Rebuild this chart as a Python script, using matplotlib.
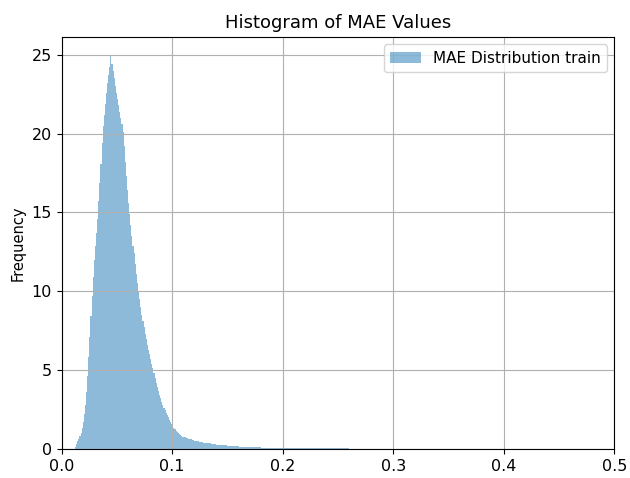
import numpy as np
import matplotlib
matplotlib.use("Agg")
import matplotlib.pyplot as plt

# bin edges: fine bins around the peak, coarser in the long tail
edges = np.concatenate([
    np.linspace(0.012, 0.110, 99),
    np.linspace(0.112, 0.130, 10),
    np.linspace(0.135, 0.200, 14),
    np.linspace(0.210, 0.500, 30),
])

# density per bin
peak_heights = [0.1, 0.3, 0.5, 0.65, 0.8, 1.0, 1.3, 1.7, 2.2, 2.8,
                3.6, 4.6, 5.8, 7.1, 8.4, 9.7, 10.9, 12.0, 12.9, 13.7,
                14.6, 15.7, 16.9, 18.1, 19.4, 20.5, 21.2, 21.9, 22.6, 23.2,
                23.7, 24.2, 24.9, 24.4, 24.0, 23.5, 23.0, 22.6, 22.2, 21.8,
                21.4, 21.0, 20.6, 20.1, 19.2, 18.2, 17.3, 16.4, 15.6, 14.9,
                14.2, 13.5, 12.9, 12.4, 11.7, 11.1, 10.5, 10.0, 9.5, 9.0,
                8.5, 8.1, 7.7, 7.3, 7.0, 6.6, 6.3, 6.0, 5.7, 5.4,
                5.1, 4.8, 4.5, 4.2, 3.9, 3.7, 3.4, 3.2, 3.0, 2.8,
                2.6, 2.45, 2.3, 2.15, 2.0, 1.85, 1.7, 1.55, 1.45, 1.35,
                1.25, 1.15, 1.07, 1.0, 0.93, 0.87, 0.82, 0.78]
shoulder_heights = [0.74, 0.70, 0.65, 0.60, 0.56, 0.52, 0.48, 0.45, 0.42, 0.40]
mid_heights = [0.36, 0.31, 0.26, 0.22, 0.19, 0.16, 0.14, 0.13, 0.11, 0.10,
               0.085, 0.075, 0.065, 0.058]
tail_heights = [0.048, 0.040, 0.034, 0.030, 0.026, 0.023, 0.020, 0.018, 0.016, 0.014,
                0.013, 0.012, 0.011, 0.010, 0.009, 0.008, 0.007, 0.006, 0.006, 0.005,
                0.005, 0.004, 0.004, 0.003, 0.003, 0.002, 0.002, 0.002, 0.001, 0.001]
heights = peak_heights + shoulder_heights + mid_heights + tail_heights

fig = plt.figure(figsize=(6.3, 4.78), dpi=100)
ax = fig.add_axes([0.098, 0.061, 0.877, 0.862])

ax.hist(edges[:-1], bins=edges, weights=heights, histtype='stepfilled',
        alpha=0.5, label='MAE Distribution train')
ax.set_xlim(0, 0.5)
ax.set_title('Histogram of MAE Values', fontsize=13)
ax.set_ylabel('Frequency', fontsize=10.5)
ax.tick_params(labelsize=11.5)
ax.legend(loc='upper right', fontsize=11)
ax.grid(True)

fig.savefig('out.png', dpi=100)
